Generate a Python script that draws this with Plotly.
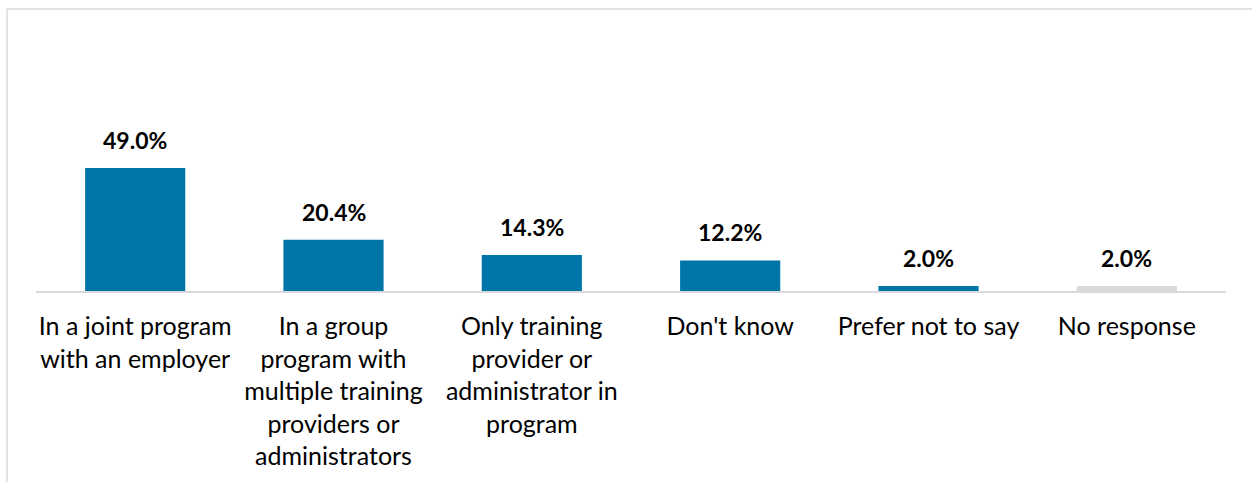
import plotly.graph_objects as go

categories = [
    "In a joint program<br>with an employer",
    "In a group<br>program with<br>multiple training<br>providers or<br>administrators",
    "Only training<br>provider or<br>administrator in<br>program",
    "Don't know",
    "Prefer not to say",
    "No response",
]
shares = [49.0, 20.4, 14.3, 12.2, 2.0, 2.0]
bar_colors = ["#0075A8", "#0075A8", "#0075A8", "#0075A8", "#0075A8", "#D9D9D9"]

W, H = 1252, 482
ml, mr, mt, mb = 36, 26, 50, 191
plot_w = W - ml - mr
plot_h = H - mt - mb

fig = go.Figure(
    go.Bar(
        x=categories,
        y=shares,
        marker=dict(color=bar_colors, line=dict(width=0)),
        cliponaxis=False,
        hoverinfo="x+y",
    )
)

# value labels above each bar
for cat, val in zip(categories, shares):
    fig.add_annotation(
        x=cat, y=val, xref="x", yref="y",
        text=f"<b>{val:.1f}%</b>",
        showarrow=False,
        yanchor="bottom",
        yshift=12,
        font=dict(family="Lato", size=23, color="#000000"),
    )

# outer frame of the chart area
fx0 = (7 - ml) / plot_w
fy1 = (H - mb - 9) / plot_h
fig.add_shape(type="line", xref="paper", yref="paper", x0=fx0, x1=fx0, y0=-2, y1=fy1,
              line=dict(color="#D9D9D9", width=1.5))
fig.add_shape(type="line", xref="paper", yref="paper", x0=fx0, x1=1.2, y0=fy1, y1=fy1,
              line=dict(color="#D9D9D9", width=1.5))

fig.update_layout(
    width=W,
    height=H,
    margin=dict(l=ml, r=mr, t=mt, b=mb),
    paper_bgcolor="white",
    plot_bgcolor="white",
    bargap=0.495,
    showlegend=False,
)
fig.update_xaxes(
    showline=True,
    linecolor="#D9D9D9",
    linewidth=2,
    ticks="",
    showgrid=False,
    tickfont=dict(family="Lato", size=25, color="#000000"),
    ticklabelstandoff=12,
)
fig.update_yaxes(
    range=[0, plot_h / 2.51],
    visible=False,
    showgrid=False,
    zeroline=False,
)

fig.write_html("out.html")
